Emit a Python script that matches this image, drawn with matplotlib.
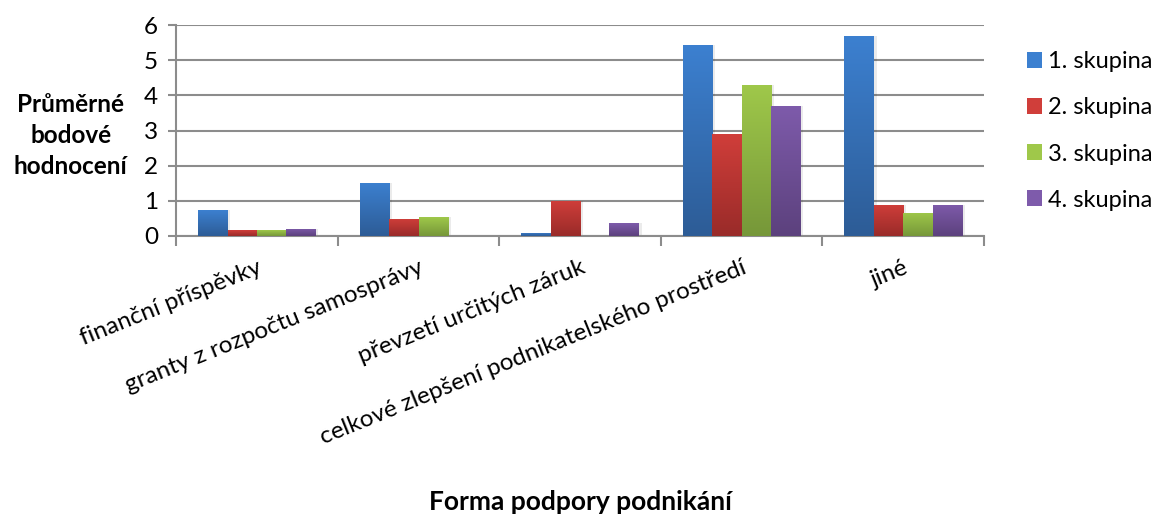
import numpy as np
import matplotlib
matplotlib.use("Agg")
import matplotlib.pyplot as plt
from matplotlib.colors import LinearSegmentedColormap
from matplotlib.patches import Patch

plt.rcParams['font.family'] = ['Lato', 'DejaVu Sans']

# data
kategorie = ["finanční příspěvky", "granty z rozpočtu samosprávy",
             "převzetí určitých záruk", "celkové zlepšení podnikatelského prostředí", "jiné"]
skupiny = ["1. skupina", "2. skupina", "3. skupina", "4. skupina"]
skupina1 = [0.74, 1.51, 0.09, 5.43, 5.69]
skupina2 = [0.17, 0.49, 1.00, 2.89, 0.89]
skupina3 = [0.17, 0.54, 0.00, 4.29, 0.66]
skupina4 = [0.20, 0.00, 0.37, 3.71, 0.89]

# (top, bottom) colours for the Excel-like gradient
barvy = [("#3c80d0", "#2d5c96"), ("#d03e3a", "#992b29"),
         ("#9fc84a", "#769739"), ("#7e5bab", "#5c417d")]
seda = "#8c8c8c"
fs = 17.5

fig = plt.figure(figsize=(11.59, 5.25), dpi=100)
ax = fig.add_axes([0.152, 0.5505, 0.697, 0.4015])

x = np.arange(len(kategorie))
w = 1 / 5.5
for i, (vals, (c_top, c_bot)) in enumerate(zip([skupina1, skupina2, skupina3, skupina4], barvy)):
    bars = ax.bar(x + (i - 1.5) * w, vals, w, color=c_top, linewidth=0, zorder=3)
    cmap = LinearSegmentedColormap.from_list("g%d" % i, [c_bot, c_top])
    grad = np.linspace(0, 1, 256).reshape(-1, 1)
    for b in bars:
        if b.get_height() <= 0:
            continue
        x0, h = b.get_x(), b.get_height()
        # soft shadow
        ax.bar(x0 + b.get_width() / 2 + 0.012, h, b.get_width() + 0.01, bottom=0,
               color="#000000", alpha=0.08, linewidth=0, zorder=2)
        im = ax.imshow(grad, cmap=cmap, origin="lower", aspect="auto",
                       extent=(x0, x0 + b.get_width(), 0, h), zorder=4)
        im.set_clip_path(b)

ax.set_xlim(-0.5, 4.5)
ax.set_ylim(0, 6)
ax.set_yticks(range(7))
ax.yaxis.grid(True, color=seda, linewidth=1.5, zorder=0)
ax.set_axisbelow(True)

for s in ["top", "right"]:
    ax.spines[s].set_visible(False)
for s in ["left", "bottom"]:
    ax.spines[s].set_color(seda)
    ax.spines[s].set_linewidth(1.5)

ax.tick_params(axis="y", direction="out", length=6, width=1.5, color=seda,
               labelsize=fs, pad=7)
ax.set_xticks(x)
ax.set_xticklabels(kategorie, rotation=22, ha="right", va="top",
                   rotation_mode="anchor", fontsize=fs)
ax.tick_params(axis="x", which="major", length=0, pad=15)
ax.set_xticks(np.arange(-0.5, 5, 1), minor=True)
ax.tick_params(axis="x", which="minor", direction="out", length=7, width=1.5, color=seda)

fig.text(0.061, 0.742, "Průměrné\nbodové\nhodnocení", ha="center", va="center",
         fontsize=fs, fontweight="bold", linespacing=1.4)
fig.text(0.5005, 0.043, "Forma podpory podnikání", ha="center", va="center",
         fontsize=19, fontweight="bold")

handles = [Patch(facecolor=c[0], edgecolor="none") for c in barvy]
fig.legend(handles, skupiny, loc="upper left", bbox_to_anchor=(0.886, 0.902),
           frameon=False, fontsize=17, handlelength=0.65, handleheight=0.65,
           handletextpad=0.25, labelspacing=1.06, borderaxespad=0, borderpad=0)

fig.savefig("out.png", dpi=100)
